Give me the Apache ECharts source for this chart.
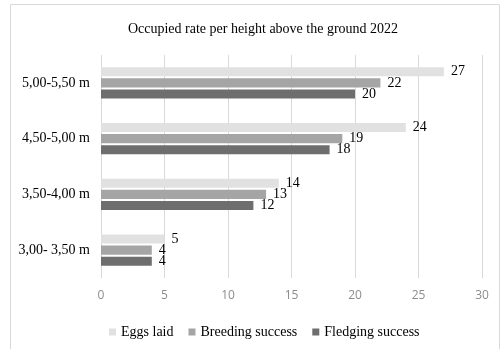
<!DOCTYPE html>
<html>
<head>
<meta charset="utf-8">
<script src="https://cdn.jsdelivr.net/npm/echarts@6/dist/echarts.min.js"></script>
<style>
  html, body { margin: 0; padding: 0; background: #fff; }
  #chart { width: 502px; height: 349px; }
</style>
</head>
<body>
<div id="chart"></div>
<script>
'use strict';
// categories bottom to top
var heights = ['3,00- 3,50 m', '3,50-4,00 m', '4,50-5,00 m', '5,00-5,50 m'];
var eggsLaid = [5, 14, 24, 27];
var breedingSuccess = [4, 13, 19, 22];
var fledgingSuccess = [4, 12, 18, 20];
var xTicks = [0, 5, 10, 15, 20, 25, 30];

var serif = '"Liberation Serif", "DejaVu Serif", serif';

function init() {
    var chart = echarts.init(document.getElementById('chart'));
    var labelOpt = {
        show: true,
        position: 'right',
        distance: 7,
        color: '#000',
        fontFamily: serif,
        fontSize: 14
    };
    var option = {
        animation: false,
        title: {
            text: 'Occupied rate per height above the ground 2022',
            left: 258,
            textAlign: 'center',
            top: 17,
            textStyle: { fontFamily: serif, fontSize: 14, fontWeight: 'normal', color: '#000' }
        },
        graphic: [{
            type: 'rect',
            shape: { x: 10.5, y: 4.5, width: 489, height: 345 },
            style: { fill: 'none', stroke: '#d9d9d9', lineWidth: 1 },
            silent: true
        }],
        legend: {
            top: 320,
            left: 104,
            itemWidth: 7,
            itemHeight: 7,
            itemGap: 15,
            icon: 'rect',
            textStyle: { fontFamily: serif, fontSize: 14, color: '#000' },
            data: ['Eggs laid', 'Breeding success', 'Fledging success']
        },
        grid: { left: 101, right: 20, top: 55, bottom: 71 },
        xAxis: {
            type: 'value',
            min: xTicks[0],
            max: xTicks[xTicks.length - 1],
            interval: 5,
            axisLine: { show: false },
            axisTick: { show: false },
            axisLabel: { color: '#8c8c8c', fontFamily: '"Open Sans", sans-serif', fontSize: 12, margin: 12 },
            splitLine: { lineStyle: { color: '#d9d9d9' } }
        },
        yAxis: {
            type: 'category',
            data: heights,
            axisLine: { show: false },
            axisTick: { show: false },
            axisLabel: { color: '#000', fontFamily: serif, fontSize: 14, margin: 11 }
        },
        series: [
            { name: 'Eggs laid', type: 'bar', data: eggsLaid, itemStyle: { color: '#e1e1e1' },
              barGap: '22%', barCategoryGap: '44%', label: labelOpt },
            { name: 'Breeding success', type: 'bar', data: breedingSuccess, itemStyle: { color: '#a5a5a5' },
              label: labelOpt },
            { name: 'Fledging success', type: 'bar', data: fledgingSuccess, itemStyle: { color: '#6e6e6e' },
              label: labelOpt }
        ]
    };
    chart.setOption(option);
}

init();
</script>
</body>
</html>
